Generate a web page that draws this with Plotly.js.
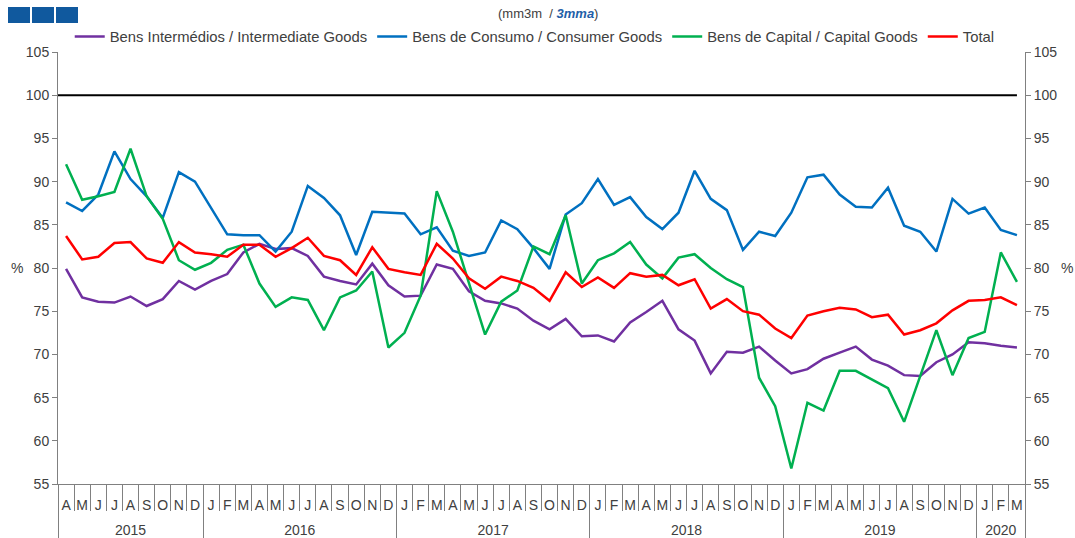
<!DOCTYPE html>
<html>
<head>
<meta charset="utf-8">
<script src="https://cdn.plot.ly/plotly-3.0.1.min.js"></script>
<style>html,body{margin:0;padding:0;background:#fff;}#chart{width:1075px;height:538px;}</style>
</head>
<body>
<div id="chart"></div>
<script>
// Month letters, April 2015 to March 2020
const monthLabels = ['A','M','J','J','A','S','O','N','D',
  'J','F','M','A','M','J','J','A','S','O','N','D',
  'J','F','M','A','M','J','J','A','S','O','N','D',
  'J','F','M','A','M','J','J','A','S','O','N','D',
  'J','F','M','A','M','J','J','A','S','O','N','D',
  'J','F','M'];
const years = ['2015','2016','2017','2018','2019','2020'];
const monthsInYear = [9, 12, 12, 12, 12, 3];

const intermediate = [79.9,76.6,76.1,76.0,76.7,75.6,76.4,78.5,77.5,78.5,
  79.3,81.8,82.8,82.2,82.3,81.4,79.0,78.5,78.1,80.5,
  78.0,76.7,76.8,80.4,79.9,77.3,76.2,75.9,75.3,73.9,
  72.9,74.1,72.1,72.2,71.5,73.7,74.9,76.2,72.9,71.6,
  67.8,70.3,70.2,70.9,69.3,67.8,68.3,69.5,70.2,70.9,
  69.4,68.7,67.6,67.5,69.1,70.0,71.4,71.3,71.0,70.8];
const consumer = [87.6,86.6,88.5,93.5,90.3,88.3,85.8,91.1,90.0,87.0,
  83.9,83.8,83.8,81.9,84.2,89.5,88.1,86.1,81.5,86.5,
  86.4,86.3,83.9,84.7,82.0,81.4,81.8,85.5,84.5,82.3,
  79.9,86.2,87.5,90.3,87.3,88.2,85.9,84.5,86.4,91.25,
  88.0,86.7,82.1,84.2,83.7,86.4,90.5,90.8,88.5,87.1,
  87.0,89.3,84.9,84.2,81.9,88.0,86.3,87.0,84.4,83.8];
const capital = [92.0,87.9,88.3,88.8,93.8,88.3,85.7,80.9,79.8,80.6,
  82.1,82.7,78.2,75.5,76.6,76.3,72.8,76.6,77.4,79.6,
  70.8,72.5,76.8,88.9,84.2,78.2,72.3,76.1,77.4,82.5,
  81.6,86.1,78.2,80.9,81.7,83.0,80.4,78.8,81.2,81.6,
  80.0,78.7,77.8,67.3,64.0,56.8,64.4,63.5,68.1,68.1,
  67.1,66.1,62.2,67.6,72.8,67.6,71.9,72.6,81.8,78.4];
const total = [83.7,81.0,81.3,82.9,83.0,81.1,80.6,83.0,81.8,81.6,
  81.3,82.7,82.7,81.3,82.3,83.5,81.4,80.9,79.2,82.4,
  79.9,79.5,79.2,82.8,81.1,78.8,77.6,79.0,78.5,77.7,
  76.2,79.5,77.8,78.9,77.7,79.4,79.0,79.2,78.0,78.7,
  75.3,76.4,75.0,74.6,73.0,71.9,74.5,75.0,75.4,75.2,
  74.3,74.6,72.3,72.8,73.6,75.1,76.2,76.3,76.6,75.7];
const referenceLevel = 100;

const seriesNames = ['Bens Intermédios / Intermediate Goods','Bens de Consumo / Consumer Goods','Bens de Capital / Capital Goods','Total'];
const seriesColors = ['#7030A0','#0070C0','#00B050','#FF0000'];

const idx = monthLabels.map((_, i) => i);
const boundaries = idx.map(i => i - 0.5).concat([monthLabels.length - 0.5]);
const yearBounds = [-0.5];
const yearCenters = [];
let acc = 0;
monthsInYear.forEach(n => { yearCenters.push(acc + (n - 1) / 2); acc += n; yearBounds.push(acc - 0.5); });

const FONT = 'Liberation Sans, Arial, sans-serif';
const TXT = '#404040';
const AX = '#808080';
const xr = [-0.5, monthLabels.length - 0.5];

const series = [intermediate, consumer, capital, total];
const traces = series.map((s, k) => ({
  x: idx, y: s, type: 'scatter', mode: 'lines', name: seriesNames[k],
  line: {color: seriesColors[k], width: 2.5}, hoverinfo: 'x+y'
}));
['x2','x3','x4'].forEach(ax => traces.push({x: [null], y: [null], xaxis: ax, yaxis: 'y2', showlegend: false, hoverinfo: 'skip', mode: 'lines'}));

const yBase = {range: [55, 105], dtick: 5, tick0: 55, ticks: 'outside', ticklen: 5, tickcolor: AX, tickwidth: 1,
  showline: true, linecolor: AX, linewidth: 1, showgrid: false, zeroline: false,
  tickfont: {family: FONT, size: 14, color: TXT}, fixedrange: true};

const layout = {
  width: 1075, height: 538,
  margin: {l: 58, r: 50, t: 52, b: 54},
  paper_bgcolor: '#fff', plot_bgcolor: '#fff',
  font: {family: FONT, color: TXT},
  title: {text: '(mm3m  / <b><i><span style="color:#1F5FA8">3mma</span></i></b>)', font: {family: FONT, size: 13, color: TXT},
    xref: 'container', x: 0.51, xanchor: 'center', yref: 'container', y: 1 - 13/538, yanchor: 'middle'},
  showlegend: true,
  legend: {orientation: 'h', x: 0.493, xanchor: 'center', y: 1.035, yanchor: 'middle',
    font: {family: FONT, size: 14.8, color: TXT}, bgcolor: 'rgba(0,0,0,0)', itemwidth: 30, traceorder: 'normal'},
  xaxis: {range: xr, tickmode: 'array', tickvals: boundaries, ticks: 'outside', ticklen: 26, tickcolor: AX, tickwidth: 1,
    showticklabels: false, showline: true, linecolor: AX, linewidth: 1, showgrid: false, zeroline: false, fixedrange: true},
  xaxis2: {overlaying: 'x', anchor: 'y', side: 'bottom', range: xr, tickmode: 'array', tickvals: idx, ticktext: monthLabels,
    ticks: '', showline: false, showgrid: false, zeroline: false, ticklabelstandoff: 11,
    tickfont: {family: FONT, size: 14, color: TXT}, fixedrange: true},
  xaxis3: {overlaying: 'x', anchor: 'y', side: 'bottom', range: xr, tickmode: 'array', tickvals: yearBounds,
    ticks: 'outside', ticklen: 54, tickcolor: AX, tickwidth: 1, showticklabels: false, showline: false, showgrid: false, zeroline: false, fixedrange: true},
  xaxis4: {overlaying: 'x', anchor: 'y', side: 'bottom', range: xr, tickmode: 'array', tickvals: yearCenters, ticktext: years,
    ticks: '', showline: false, showgrid: false, zeroline: false, ticklabelstandoff: 36,
    tickfont: {family: FONT, size: 14, color: TXT}, fixedrange: true},
  yaxis: Object.assign({}, yBase),
  yaxis2: Object.assign({}, yBase, {overlaying: 'y', side: 'right', anchor: 'x'}),
  shapes: [
    {type: 'line', xref: 'x', yref: 'y', x0: -0.5, x1: monthLabels.length - 1, y0: referenceLevel, y1: referenceLevel,
      line: {color: '#000', width: 2}, layer: 'below'},
    {type: 'rect', xref: 'paper', yref: 'paper', xsizemode: 'pixel', ysizemode: 'pixel', xanchor: 0, yanchor: 1,
      x0: -50, x1: -28, y0: 29, y1: 45, fillcolor: '#10599E', line: {width: 0}},
    {type: 'rect', xref: 'paper', yref: 'paper', xsizemode: 'pixel', ysizemode: 'pixel', xanchor: 0, yanchor: 1,
      x0: -26, x1: -4, y0: 29, y1: 45, fillcolor: '#10599E', line: {width: 0}},
    {type: 'rect', xref: 'paper', yref: 'paper', xsizemode: 'pixel', ysizemode: 'pixel', xanchor: 0, yanchor: 1,
      x0: -2, x1: 20, y0: 29, y1: 45, fillcolor: '#10599E', line: {width: 0}}
  ],
  annotations: [
    {text: '%', xref: 'paper', yref: 'paper', x: 0, xshift: -49, y: 0.5, showarrow: false, font: {family: FONT, size: 14, color: TXT}},
    {text: '%', xref: 'paper', yref: 'paper', x: 1, xshift: 50, y: 0.5, showarrow: false, font: {family: FONT, size: 14, color: TXT}}
  ]
};

Plotly.newPlot('chart', traces, layout, {displayModeBar: false, responsive: false});
</script>
</body>
</html>
